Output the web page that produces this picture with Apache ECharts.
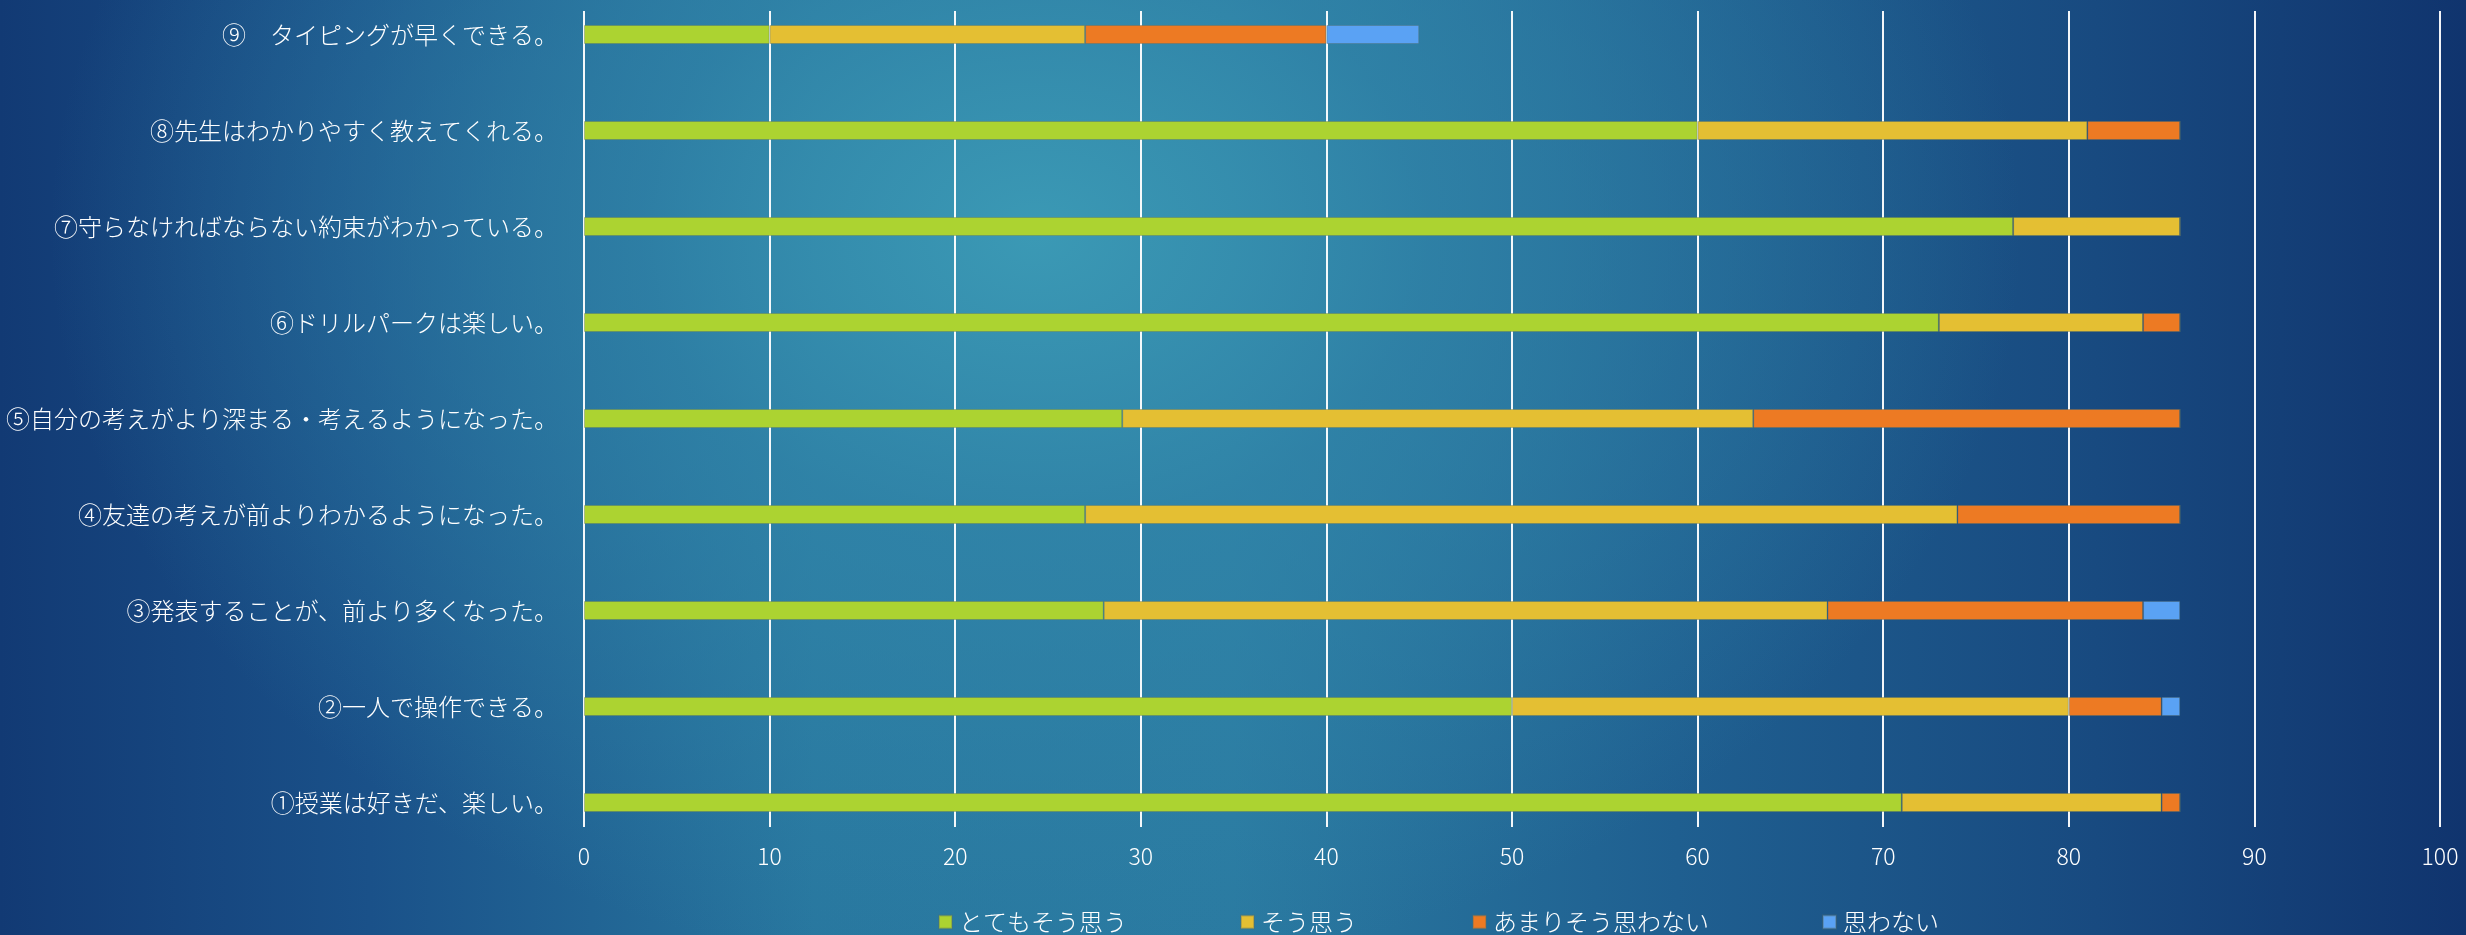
<!DOCTYPE html>
<html>
<head>
<meta charset="utf-8">
<script src="https://cdn.jsdelivr.net/npm/echarts@6/dist/echarts.min.js"></script>
<style>
  html, body { margin: 0; padding: 0; }
  #chart {
    width: 2466px; height: 935px;
    background:
      radial-gradient(ellipse 40% 80% at 42% 25%, rgba(60,155,182,0.95) 0%, rgba(50,135,170,0.7) 40%, rgba(40,110,155,0.0) 100%),
      linear-gradient(90deg, #123a74 0%, #1a5189 15%, #28779f 33%, #2a7aa1 50%, #1f5f90 68%, #184a80 85%, #10346e 100%);
  }
</style>
</head>
<body>
<div id="chart"></div>
<script>
// ---- data ----
const categories = [
  '①授業は好きだ、楽しい。',
  '②一人で操作できる。',
  '③発表することが、前より多くなった。',
  '④友達の考えが前よりわかるようになった。',
  '⑤自分の考えがより深まる・考えるようになった。',
  '⑥ドリルパークは楽しい。',
  '⑦守らなければならない約束がわかっている。',
  '⑧先生はわかりやすく教えてくれる。',
  '⑨　タイピングが早くできる。'
];
const seriesNames = ['とてもそう思う', 'そう思う', 'あまりそう思わない', '思わない'];
const totemo   = [71, 50, 28, 27, 29, 73, 77, 60, 10];
const sou      = [14, 30, 39, 47, 34, 11,  9, 21, 17];
const amari    = [ 1,  5, 17, 12, 23,  2,  0,  5, 13];
const omowanai = [ 0,  1,  2,  0,  0,  0,  0,  0,  5];
const xTicks = { min: 0, max: 100, interval: 10 };

// ---- styles / layout ----
const colors = ['#acd331', '#e4bf33', '#ed7a23', '#5aa2f4'];
const FONT = '"Noto Sans CJK JP", "Noto Sans", sans-serif';
const LEFT = 584, RIGHT = 26;
const BAND = 96, FIRST_CENTER = 34.5;
const legendLeft = [933, 1235, 1467, 1817];

const chart = echarts.init(document.getElementById('chart'), null, { renderer: 'canvas' });
const values = [totemo, sou, amari, omowanai];

const option = {
  backgroundColor: 'transparent',
  animation: false,
  grid: [
    { left: LEFT, right: RIGHT, top: FIRST_CENTER - BAND / 2, height: BAND * categories.length,
      containLabel: false, outerBoundsMode: 'none' },
    { left: LEFT, right: RIGHT, top: 11, height: 816, containLabel: false, outerBoundsMode: 'none' }
  ],
  xAxis: [
    { gridIndex: 0, type: 'value', min: xTicks.min, max: xTicks.max, interval: xTicks.interval,
      show: false, splitLine: { show: false } },
    { gridIndex: 1, type: 'value', min: xTicks.min, max: xTicks.max, interval: xTicks.interval,
      axisLine: { show: false }, axisTick: { show: false },
      splitLine: { show: true, lineStyle: { color: 'rgba(255,255,255,0.95)', width: 2 } },
      axisLabel: { color: '#ffffff', fontSize: 23, fontFamily: FONT, fontWeight: 300, margin: 18 } }
  ],
  yAxis: [
    { gridIndex: 0, type: 'category', data: categories,
      axisLine: { show: false }, axisTick: { show: false }, splitLine: { show: false },
      axisLabel: { color: '#ffffff', fontSize: 24, fontFamily: FONT, fontWeight: 300, margin: 26 } },
    { gridIndex: 1, type: 'category', data: categories, show: false }
  ],
  legend: seriesNames.map((n, i) => ({
    data: [n], left: legendLeft[i], top: 905, icon: 'rect', itemWidth: 13, itemHeight: 13,
    selectedMode: false,
    textStyle: { color: '#ffffff', fontSize: 24, fontFamily: FONT, fontWeight: 300, padding: [0, 0, 0, 2] }
  })),
  series: seriesNames.map((n, i) => ({
    name: n, type: 'bar', stack: 'total', xAxisIndex: 0, yAxisIndex: 0,
    barWidth: 19, data: values[i],
    itemStyle: { color: colors[i], borderColor: 'rgba(90,110,100,0.35)', borderWidth: 1 }
  }))
};
chart.setOption(option);
</script>
</body>
</html>
